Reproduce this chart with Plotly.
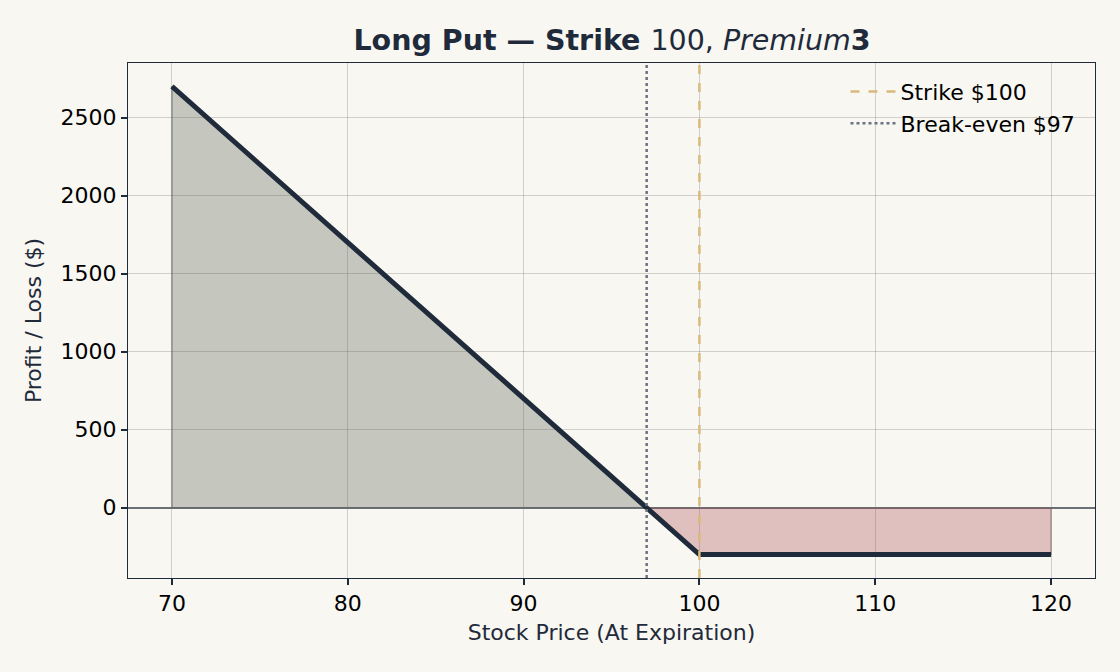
import plotly.graph_objects as go

# payoff of a long put, 100 shares
prices = [70, 97, 100, 120]
pnl = [2700, 0, -300, -300]
strike = 100
premium = 3
breakeven = 97
yrange = [-450, 2850]
xrange_ = [67.5, 122.5]

bg = "#f8f7f2"
ink = "#1f2a3a"

fig = go.Figure()

# profit area (left of break-even)
fig.add_trace(go.Scatter(
    x=[prices[0]] + prices[:2], y=[0] + pnl[:2],
    fill="toself", mode="lines",
    fillcolor="rgba(78,90,72,0.30)",
    line=dict(color="rgba(90,95,90,0.55)", width=1.5),
    showlegend=False, hoverinfo="skip"))

# loss area
fig.add_trace(go.Scatter(
    x=prices[1:] + [prices[-1]], y=pnl[1:] + [0],
    fill="toself", mode="lines",
    fillcolor="rgba(165,67,72,0.30)",
    line=dict(color="rgba(120,90,90,0.55)", width=1.5),
    showlegend=False, hoverinfo="skip"))

# payoff line
fig.add_trace(go.Scatter(
    x=prices, y=pnl, mode="lines",
    line=dict(color=ink, width=5),
    showlegend=False))

fig.add_trace(go.Scatter(
    x=[strike, strike], y=yrange, mode="lines",
    line=dict(color="#d9b97c", width=2.5, dash="dash"),
    name=f"Strike ${strike}"))

fig.add_trace(go.Scatter(
    x=[breakeven, breakeven], y=yrange, mode="lines",
    line=dict(color="#6b7280", width=2.5, dash="dot"),
    name=f"Break-even ${breakeven}"))

axis_common = dict(
    showline=True, mirror=True, linecolor=ink, linewidth=1,
    ticks="outside", ticklen=6, tickwidth=1.5, tickcolor=ink,
    tickfont=dict(size=22, color="black"),
    gridcolor="rgba(0,0,0,0.16)", gridwidth=1,
)

fig.update_layout(
    width=1120, height=672,
    paper_bgcolor=bg, plot_bgcolor=bg,
    font=dict(family="DejaVu Sans", color=ink),
    margin=dict(l=128, r=25, t=63, b=94),
    title=dict(
        text=f"<b>Long Put — Strike </b>{strike}, <i>Premium</i><b>{premium}</b>",
        x=0.5465, xanchor="center", y=1 - 40 / 672, yanchor="middle",
        font=dict(size=28.5, color=ink)),
    xaxis=dict(axis_common, range=xrange_, dtick=10, zeroline=False,
               title=dict(text="Stock Price (At Expiration)", font=dict(size=22, color=ink), standoff=9)),
    yaxis=dict(axis_common, range=yrange, dtick=500, tick0=0,
               zeroline=True, zerolinecolor="#6b7075", zerolinewidth=1.5,
               title=dict(text="Profit / Loss ($)", font=dict(size=22, color=ink), standoff=12)),
    legend=dict(x=0.985, y=0.985, xanchor="right", yanchor="top", itemwidth=45,
                bgcolor="rgba(0,0,0,0)", font=dict(size=22, color="black")),
)

fig.write_html("out.html", config={"displayModeBar": False},
               post_script="document.body.style.margin='0';")
